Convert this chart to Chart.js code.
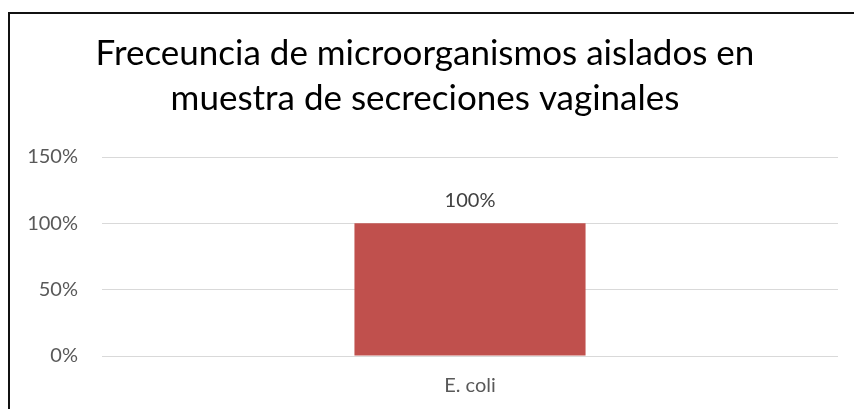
<!DOCTYPE html>
<html>
<head>
<meta charset="utf-8">
<script src="https://cdn.jsdelivr.net/npm/chart.js@4"></script>
<style>
  body { margin: 0; background: #fff; }
  #wrap { position: relative; width: 854px; height: 409px; overflow: hidden; }
  #frame { position: absolute; left: 8px; top: 12px; width: 900px; height: 500px; border: 2px solid #111; pointer-events: none; }
</style>
</head>
<body>
<div id="wrap">
  <canvas id="myChart" width="854" height="409"></canvas>
  <div id="frame"></div>
</div>
<script>
const titleLines = ["Freceuncia de microorganismos aislados en", "muestra de secreciones vaginales"];
const categories = ["E. coli"];
const frecuencia = [1.0];
const yTicks = [0, 0.5, 1, 1.5];

const pct = (v) => Math.round(v * 100) + "%";

// etiqueta encima de la barra
const dataLabels = {
  id: "dataLabels",
  afterDatasetsDraw(chart) {
    const ctx = chart.ctx;
    const meta = chart.getDatasetMeta(0);
    ctx.save();
    ctx.fillStyle = "#404040";
    ctx.font = "20px Lato";
    ctx.textAlign = "center";
    ctx.textBaseline = "bottom";
    meta.data.forEach((bar, i) => {
      ctx.fillText(pct(frecuencia[i]), bar.x, bar.y - 13);
    });
    ctx.restore();
  },
};

const ctx = document.getElementById("myChart");

new Chart(ctx, {
  type: "bar",
  data: {
    labels: categories,
    datasets: [
      {
        label: "Frecuencia",
        data: frecuencia,
        backgroundColor: "#C0504D",
        categoryPercentage: 1,
        barPercentage: 0.314,
      },
    ],
  },
  options: {
    responsive: false,
    animation: false,
    layout: { padding: { left: 12, right: 16, top: 0, bottom: 0 } },
    plugins: {
      legend: { display: false },
      tooltip: { enabled: false },
      title: {
        display: true,
        text: titleLines,
        color: "#000",
        font: { family: "Lato", size: 35, weight: "normal", lineHeight: "45px" },
        padding: { top: 31, bottom: 36 },
      },
    },
    scales: {
      x: {
        grid: { display: false, drawTicks: false },
        border: { display: false },
        ticks: { color: "#595959", font: { family: "Lato", size: 20 }, padding: 18 },
        afterFit: (scale) => { scale.height = 53; },
      },
      y: {
        min: 0,
        max: 1.5,
        grid: { color: "#d9d9d9", lineWidth: 1, drawTicks: false },
        border: { display: false },
        afterBuildTicks: (scale) => { scale.ticks = yTicks.map((v) => ({ value: v })); },
        ticks: {
          color: "#595959",
          font: { family: "Lato", size: 20 },
          padding: 24,
          callback: (v) => pct(v),
        },
        afterFit: (scale) => { scale.width = 90; },
      },
    },
  },
  plugins: [dataLabels],
});
</script>
</body>
</html>
